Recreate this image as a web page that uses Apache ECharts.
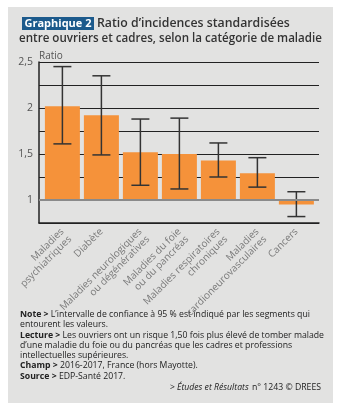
<!DOCTYPE html>
<html><head><meta charset="utf-8">
<script src="https://cdn.jsdelivr.net/npm/echarts@6/dist/echarts.min.js"></script>
<style>html,body{margin:0;padding:0;background:#fff}#c{width:349px;height:413px}</style>
</head><body><div id="c"></div>
<script>
const categories = ['Maladies\npsychiatriques','Diabète','Maladies neurologiques\nou dégénératives','Maladies du foie\nou du pancréas','Maladies respiratoires\nchroniques','Maladies\ncardioneurovasculaires','Cancers'];
const ratios = [2.02, 1.92, 1.52, 1.50, 1.43, 1.29, 0.95];
const lowCI = [1.61, 1.49, 1.16, 1.12, 1.25, 1.14, 0.82];
const highCI = [2.45, 2.35, 1.88, 1.89, 1.62, 1.46, 1.09];
const yTicks = {2.5:'2,5', 2:'2', 1.5:'1,5', 1:'1'};
const catIdx = categories.map((c,i) => i);

const chart = echarts.init(document.getElementById('c'), null, {renderer:'canvas'});
const FONT = 'Open Sans';
const NS = 8.7, LH = 10.3;
const noteLines = [
  [['b','Note > '],['n','L’intervalle de confiance à 95 % est indiqué par les segments qui']],
  [['n','entourent les valeurs.']],
  [['b','Lecture > '],['n','Les ouvriers ont un risque 1,50 fois plus élevé de tomber malade']],
  [['n','d’une maladie du foie ou du pancréas que les cadres et professions']],
  [['n','intellectuelles supérieures.']],
  [['b','Champ > '],['n','2016-2017, France (hors Mayotte).']],
  [['b','Source > '],['n','EDP-Santé 2017.']]
];
const noteText = noteLines.map(l => l.map(([s,t]) => '{'+s+'|'+t+'}').join('')).join('\n');

chart.setOption({
  animation:false,
  backgroundColor:'#fff',
  graphic:[
    {type:'rect', z:-10, shape:{x:8,y:7,width:325,height:396}, style:{fill:'#e2e2e1'}},
    {type:'rect', shape:{x:22,y:17,width:72,height:13}, style:{fill:'#1c5a8c'}},
    {type:'text', x:24.5, y:23.5, style:{text:'Graphique 2', font:'bold 11px '+FONT, fill:'#fff', verticalAlign:'middle'}},
    {type:'text', x:97, y:23.5, style:{text:'Ratio d’incidences standardisées', font:'600 12.3px '+FONT, fill:'#333', verticalAlign:'middle'}},
    {type:'text', x:19, y:39, style:{text:'entre ouvriers et cadres, selon la catégorie de maladie', font:'600 11.6px '+FONT, fill:'#333', verticalAlign:'middle'}},
    {type:'text', x:20, y:314.5 - LH/2, style:{text:noteText, lineHeight:LH, fill:'#222',
      rich:{b:{fontFamily:FONT,fontSize:NS,fontWeight:'bold',fill:'#222',lineHeight:LH},n:{fontFamily:FONT,fontSize:NS,fill:'#222',lineHeight:LH}}}},
    {type:'text', x:321, y:387.5, style:{text:'{i|> Études et Résultats} {n|n° 1243 © DREES}', align:'right', verticalAlign:'middle',
      rich:{i:{fontFamily:FONT,fontSize:NS,fontStyle:'italic',fill:'#222'},n:{fontFamily:FONT,fontSize:NS,fill:'#222'}}}}
  ],
  grid:{left:39, right:30, top:62, bottom:190, containLabel:false},
  xAxis:{type:'value', min:-0.6, max:6.58,
    axisLine:{show:true, onZero:false, lineStyle:{color:'#222',width:1.5}}, axisTick:{show:false},
    splitLine:{show:false},
    axisLabel:{customValues:catIdx, rotate:45, margin:7, color:'#7a7a7a', fontFamily:FONT, fontSize:10, lineHeight:10.8,
      showMinLabel:true, showMaxLabel:true, hideOverlap:false,
      formatter:v => (Number.isInteger(v) && categories[v] !== undefined) ? (categories[v].indexOf('\n') >= 0 ? '\n' + categories[v] : categories[v]) : ''}
  },
  yAxis:{type:'value', min:0.75, max:2.5, interval:0.25,
    name:'Ratio', nameLocation:'end', nameGap:1,
    nameTextStyle:{align:'left', color:'#555', fontFamily:FONT, fontSize:10, padding:[0,0,0,0]},
    axisLine:{show:true, onZero:false, lineStyle:{color:'#222',width:1.5}}, axisTick:{show:false},
    axisLabel:{color:'#555', fontFamily:FONT, fontSize:10.5, margin:6,
      formatter:v => (yTicks[v] !== undefined ? yTicks[v] : '')},
    splitLine:{show:true, lineStyle:{color:'#222', width:1}}
  },
  series:[
    {type:'custom', z:2,
      data: ratios.map((v,i) => [i, v]),
      renderItem:(params, api) => {
        const i = api.value(0), v = api.value(1);
        const p0 = api.coord([i, 1]), p1 = api.coord([i, v]);
        const bw = 35;
        return {type:'rect', shape:{x:p0[0]-bw/2, y:Math.min(p0[1],p1[1]), width:bw, height:Math.abs(p0[1]-p1[1])},
          style:{fill:'#f5923a'}};
      }
    },
    {type:'line', z:3, data:[], markLine:{symbol:'none', silent:true, label:{show:false},
      lineStyle:{color:'#8a8a8a', width:2, type:'solid'}, data:[{yAxis:1}]}},
    {type:'custom', z:4,
      data: lowCI.map((lo,i) => [i, lo, highCI[i]]),
      renderItem:(params, api) => {
        const i = api.value(0);
        const pl = api.coord([i, api.value(1)]), ph = api.coord([i, api.value(2)]);
        const cw = 9;
        const st = {stroke:'#333', lineWidth:1.5};
        return {type:'group', children:[
          {type:'line', shape:{x1:pl[0],y1:pl[1],x2:ph[0],y2:ph[1]}, style:st},
          {type:'line', shape:{x1:pl[0]-cw,y1:pl[1],x2:pl[0]+cw,y2:pl[1]}, style:st},
          {type:'line', shape:{x1:ph[0]-cw,y1:ph[1],x2:ph[0]+cw,y2:ph[1]}, style:st}
        ]};
      }
    }
  ]
});
</script></body></html>
